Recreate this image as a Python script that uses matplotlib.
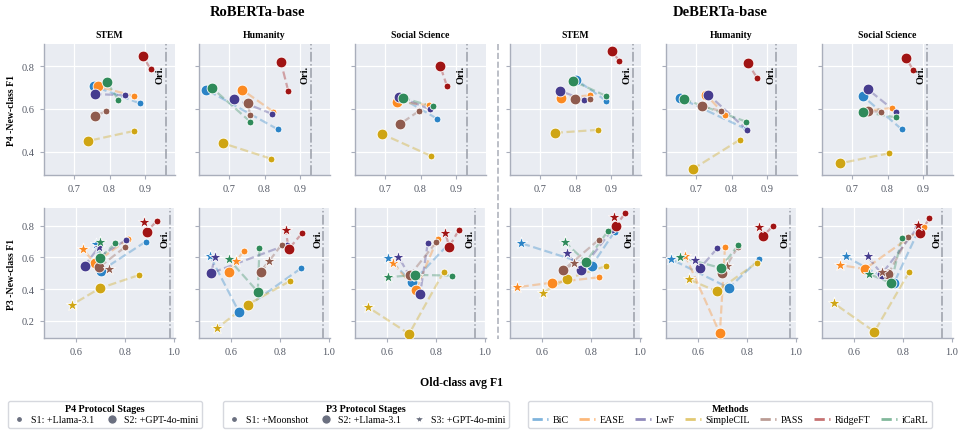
import matplotlib
matplotlib.use("Agg")
import matplotlib.pyplot as plt
from matplotlib.lines import Line2D

plt.rcParams['font.family'] = 'serif'
plt.rcParams['font.serif'] = ['Liberation Serif', 'DejaVu Serif']

methods = ['BiC', 'EASE', 'LwF', 'SimpleCIL', 'PASS', 'RidgeFT', 'iCaRL']
colors = ['#2b83c6', '#fb8a22', '#463c8e', '#cfa514', '#8f5b4e', '#a01414', '#2f8a5a']
domains = ['STEM', 'Humanity', 'Social Science']

# ---- P4 protocol (stages S1, S2), values per method in order of `methods`
# old-class avg F1 / new-class F1, rows = stages
p4_rob_stem_old = [[0.885, 0.870, 0.844, 0.870, 0.791, 0.916, 0.825],
                   [0.757, 0.768, 0.760, 0.740, 0.758, 0.895, 0.793]]
p4_rob_stem_new = [[0.627, 0.660, 0.664, 0.497, 0.591, 0.787, 0.643],
                   [0.706, 0.706, 0.670, 0.450, 0.565, 0.847, 0.725]]
p4_rob_hum_old = [[0.837, 0.825, 0.821, 0.817, 0.760, 0.867, 0.760],
                  [0.636, 0.737, 0.713, 0.683, 0.752, 0.846, 0.651]]
p4_rob_hum_new = [[0.505, 0.587, 0.577, 0.367, 0.573, 0.685, 0.540],
                  [0.690, 0.690, 0.649, 0.439, 0.627, 0.822, 0.700]]
p4_rob_soc_old = [[0.846, 0.824, 0.826, 0.829, 0.796, 0.875, 0.834],
                  [0.744, 0.733, 0.740, 0.692, 0.742, 0.856, 0.750]]
p4_rob_soc_new = [[0.555, 0.618, 0.599, 0.380, 0.591, 0.706, 0.612],
                  [0.654, 0.634, 0.657, 0.482, 0.529, 0.800, 0.652]]
p4_deb_stem_old = [[0.887, 0.840, 0.823, 0.864, 0.840, 0.923, 0.885],
                   [0.802, 0.758, 0.757, 0.743, 0.798, 0.903, 0.794]]
p4_deb_stem_new = [[0.638, 0.664, 0.643, 0.502, 0.647, 0.827, 0.662],
                   [0.737, 0.651, 0.685, 0.488, 0.645, 0.871, 0.731]]
p4_deb_hum_old = [[0.842, 0.782, 0.845, 0.823, 0.770, 0.872, 0.842],
                  [0.655, 0.728, 0.735, 0.690, 0.716, 0.846, 0.666]]
p4_deb_hum_new = [[0.505, 0.571, 0.500, 0.455, 0.591, 0.747, 0.540],
                  [0.651, 0.667, 0.667, 0.317, 0.612, 0.814, 0.646]]
p4_deb_soc_old = [[0.840, 0.814, 0.823, 0.804, 0.782, 0.872, 0.825],
                  [0.731, 0.740, 0.744, 0.667, 0.745, 0.853, 0.731]]
p4_deb_soc_new = [[0.505, 0.605, 0.587, 0.392, 0.587, 0.784, 0.560],
                  [0.659, 0.591, 0.693, 0.345, 0.590, 0.838, 0.587]]

# ---- P3 protocol (stages S1, S2, S3)
p3_rob_stem_old = [[0.885, 0.813, 0.803, 0.856, 0.800, 0.932, 0.761],
                   [0.704, 0.677, 0.636, 0.698, 0.695, 0.889, 0.699],
                   [0.681, 0.629, 0.695, 0.583, 0.736, 0.879, 0.698]]
p3_rob_stem_new = [[0.699, 0.716, 0.708, 0.488, 0.664, 0.831, 0.689],
                   [0.517, 0.563, 0.548, 0.406, 0.538, 0.762, 0.597],
                   [0.685, 0.653, 0.668, 0.301, 0.528, 0.821, 0.695]]
p3_rob_hum_old = [[0.887, 0.653, 0.829, 0.840, 0.807, 0.891, 0.717],
                  [0.634, 0.593, 0.519, 0.669, 0.722, 0.836, 0.710],
                  [0.514, 0.620, 0.536, 0.542, 0.754, 0.824, 0.591]]
p3_rob_hum_new = [[0.532, 0.643, 0.680, 0.450, 0.680, 0.752, 0.657],
                  [0.255, 0.511, 0.501, 0.303, 0.506, 0.653, 0.384],
                  [0.612, 0.576, 0.605, 0.154, 0.580, 0.773, 0.590]]
p3_rob_soc_old = [[0.846, 0.807, 0.767, 0.833, 0.802, 0.895, 0.866],
                  [0.704, 0.719, 0.736, 0.691, 0.695, 0.855, 0.715],
                  [0.603, 0.626, 0.647, 0.523, 0.722, 0.839, 0.603]]
p3_rob_soc_new = [[0.674, 0.718, 0.689, 0.511, 0.696, 0.775, 0.486],
                  [0.444, 0.397, 0.370, 0.119, 0.490, 0.668, 0.490],
                  [0.597, 0.563, 0.605, 0.287, 0.486, 0.752, 0.475]]
p3_deb_stem_old = [[0.897, 0.833, 0.887, 0.863, 0.833, 0.941, 0.869],
                   [0.804, 0.640, 0.760, 0.701, 0.688, 0.903, 0.780],
                   [0.516, 0.497, 0.701, 0.603, 0.732, 0.896, 0.695]]
p3_deb_stem_new = [[0.762, 0.475, 0.773, 0.546, 0.712, 0.880, 0.764],
                   [0.548, 0.441, 0.521, 0.464, 0.521, 0.800, 0.573],
                   [0.689, 0.412, 0.628, 0.378, 0.563, 0.857, 0.695]]
p3_deb_hum_old = [[0.851, 0.711, 0.679, 0.841, 0.764, 0.906, 0.766],
                  [0.727, 0.690, 0.608, 0.677, 0.700, 0.865, 0.693],
                  [0.492, 0.549, 0.590, 0.563, 0.721, 0.851, 0.529]]
p3_deb_hum_new = [[0.590, 0.668, 0.657, 0.567, 0.668, 0.796, 0.680],
                  [0.408, 0.122, 0.531, 0.387, 0.502, 0.733, 0.534],
                  [0.588, 0.611, 0.584, 0.462, 0.548, 0.794, 0.601]]
p3_deb_soc_old = [[0.864, 0.885, 0.858, 0.827, 0.823, 0.909, 0.796],
                  [0.764, 0.645, 0.714, 0.684, 0.741, 0.872, 0.752],
                  [0.566, 0.544, 0.656, 0.519, 0.716, 0.862, 0.662]]
p3_deb_soc_new = [[0.769, 0.790, 0.783, 0.511, 0.731, 0.848, 0.720],
                  [0.439, 0.527, 0.496, 0.133, 0.496, 0.754, 0.439],
                  [0.607, 0.552, 0.607, 0.311, 0.506, 0.804, 0.496]]

# original (joint training) old-class F1
ori_p4 = [0.959, 0.930, 0.930, 0.962, 0.926, 0.911]
ori_p3 = [0.985, 0.978, 0.961, 0.978, 0.977, 0.960]

p4_panels = [(p4_rob_stem_old, p4_rob_stem_new), (p4_rob_hum_old, p4_rob_hum_new),
             (p4_rob_soc_old, p4_rob_soc_new), (p4_deb_stem_old, p4_deb_stem_new),
             (p4_deb_hum_old, p4_deb_hum_new), (p4_deb_soc_old, p4_deb_soc_new)]
p3_panels = [(p3_rob_stem_old, p3_rob_stem_new), (p3_rob_hum_old, p3_rob_hum_new),
             (p3_rob_soc_old, p3_rob_soc_new), (p3_deb_stem_old, p3_deb_stem_new),
             (p3_deb_hum_old, p3_deb_hum_new), (p3_deb_soc_old, p3_deb_soc_new)]

stage_marker = ['o', 'o', '*']
stage_size = [24, 60, 85]

fig = plt.figure(figsize=(9.62, 4.35), dpi=100)

col_x = [44, 199, 355, 510, 666, 822]
W, H = 962, 435
row_y = [(45, 176), (209, 339)]


def style_ax(ax):
    ax.set_facecolor('#e9ecf2')
    ax.grid(True, color='white', lw=0.9)
    ax.set_axisbelow(True)
    for s in ['top', 'right']:
        ax.spines[s].set_visible(False)
    for s in ['left', 'bottom']:
        ax.spines[s].set_color('#a9aebb')
        ax.spines[s].set_linewidth(1.0)
    ax.tick_params(colors='#a9aebb', labelcolor='#555a66', labelsize=7.5,
                   length=3, width=0.8)


def draw_panel(ax, old, new, ori):
    nst = len(old)
    for m in range(len(methods)):
        xs = [old[s][m] for s in range(nst)]
        ys = [new[s][m] for s in range(nst)]
        ax.plot(xs, ys, ls='--', color=colors[m], lw=1.6, alpha=0.35, zorder=2)
    for m in range(len(methods)):
        for s in range(nst):
            ax.scatter(old[s][m], new[s][m], s=stage_size[s], marker=stage_marker[s],
                       color=colors[m], edgecolor='white', linewidth=0.6, zorder=3)
    ax.axvline(ori, color='#9a9ea8', ls='-.', lw=1.1, zorder=1)
    ax.text(ori - 0.003, 0.77, 'Ori.', transform=ax.get_xaxis_transform(),
            rotation=90, ha='right', va='center', fontsize=7.5, fontweight='bold')


axes = []
for r, panels in enumerate([p4_panels, p3_panels]):
    top, bot = row_y[r]
    for c in range(6):
        ax = fig.add_axes([col_x[c] / W, 1 - bot / H, 131 / W, (bot - top) / H])
        style_ax(ax)
        old, new = panels[c]
        ori = ori_p4[c] if r == 0 else ori_p3[c]
        draw_panel(ax, old, new, ori)
        if r == 0:
            ax.set_xlim(0.615, 0.985)
            ax.set_xticks([0.7, 0.8, 0.9])
            ax.set_ylim(0.29, 0.905)
            ax.set_yticks([0.4, 0.6, 0.8])
            ax.set_title(domains[c % 3], fontsize=7, fontweight='bold', pad=5)
        else:
            ax.set_xlim(0.47, 1.005)
            ax.set_xticks([0.6, 0.8, 1.0])
            ax.set_ylim(0.093, 0.911)
            ax.set_yticks([0.2, 0.4, 0.6, 0.8])
        if c > 0:
            ax.set_yticklabels([])
        axes.append(ax)

axes[0].set_ylabel('P4 -New-class F1', fontsize=7, fontweight='bold')
axes[6].set_ylabel('P3 -New-class F1', fontsize=7, fontweight='bold')

fig.text(257 / W, 1 - 13 / H, 'RoBERTa-base', ha='center', va='center',
         fontsize=10.5, fontweight='bold')
fig.text(720 / W, 1 - 13 / H, 'DeBERTa-base', ha='center', va='center',
         fontsize=10.5, fontweight='bold')
fig.text(462 / W, 1 - 383 / H, 'Old-class avg F1', ha='center', va='center',
         fontsize=8.5, fontweight='bold')

# separator between the two models
fig.add_artist(Line2D([498 / W, 498 / W], [1 - 45 / H, 1 - 340 / H],
                      transform=fig.transFigure, ls='--', color='#b0b4be', lw=1.2))

# legends
gray = '#6b7080'
leg_kw = dict(fontsize=7.2, frameon=True, edgecolor='#d6d8de', facecolor='white',
              framealpha=1, handletextpad=0.5, columnspacing=1.0, borderpad=0.35,
              labelspacing=0.2, title_fontproperties={'weight': 'bold', 'size': 7.2})

h4 = [Line2D([], [], ls='', marker='o', ms=4.5, color=gray, mec='white'),
      Line2D([], [], ls='', marker='o', ms=7, color=gray, mec='white')]
l1 = fig.legend(h4, ['S1: +Llama-3.1', 'S2: +GPT-4o-mini'], title='P4 Protocol Stages',
                ncol=2, loc='center', bbox_to_anchor=(105 / W, 1 - 415 / H),
                handlelength=1.5, **leg_kw)

h3 = [Line2D([], [], ls='', marker='o', ms=4.5, color=gray, mec='white'),
      Line2D([], [], ls='', marker='o', ms=7, color=gray, mec='white'),
      Line2D([], [], ls='', marker='*', ms=7, color=gray, mec='white')]
l2 = fig.legend(h3, ['S1: +Moonshot', 'S2: +Llama-3.1', 'S3: +GPT-4o-mini'],
                title='P3 Protocol Stages', ncol=3, loc='center',
                bbox_to_anchor=(366 / W, 1 - 415 / H), handlelength=1.5, **leg_kw)

hm = [Line2D([], [], ls='--', lw=2, color=c, alpha=0.6) for c in colors]
l3 = fig.legend(hm, methods, title='Methods', ncol=7, loc='center',
                bbox_to_anchor=(730 / W, 1 - 415 / H), handlelength=1.6, **leg_kw)

fig.savefig('out.png', dpi=100)
